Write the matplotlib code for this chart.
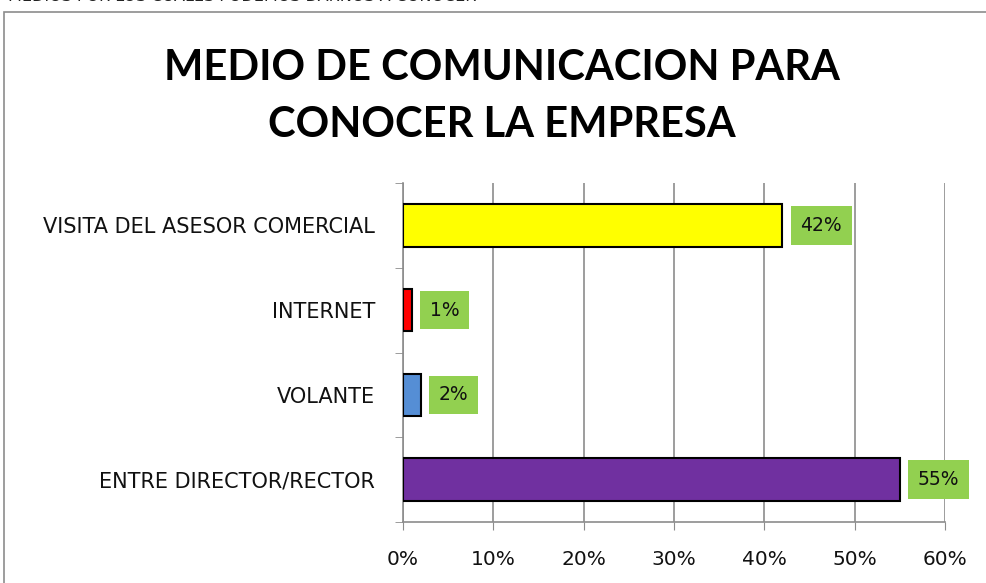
import matplotlib.pyplot as plt
from matplotlib.patches import Rectangle
import numpy as np

# data, bottom to top as drawn
categories = ["ENTRE DIRECTOR/RECTOR", "VOLANTE", "INTERNET", "VISITA DEL ASESOR COMERCIAL"]
values = [0.55, 0.02, 0.01, 0.42]
colors = ["#7030A0", "#558ED5", "#FF0000", "#FFFF00"]
xticks = [0, 0.1, 0.2, 0.3, 0.4, 0.5, 0.6]
xticklabels = ["0%", "10%", "20%", "30%", "40%", "50%", "60%"]

plt.rcParams['font.family'] = ['DejaVu Sans']

fig = plt.figure(figsize=(9.86, 5.83), dpi=100)

# clipped caption from the page above the chart
fig.text(0.008, 1.0 + 0.006, "MEDIOS POR LOS CUALES PODEMOS DARNOS A CONOCER",
         fontsize=11.5, color="#222222", va="center", ha="left")

# chart frame
fig.patches.append(Rectangle((4 / 986, -0.05), 1.1, 1 - 12 / 583 + 0.05,
                             transform=fig.transFigure, fill=False,
                             edgecolor="#8c8c8c", linewidth=1.2))

fig.text(0.509, 0.884, "MEDIO DE COMUNICACION PARA", fontsize=30, fontweight="bold",
         family="Lato", ha="center", va="center", color="black")
fig.text(0.509, 0.785, "CONOCER LA EMPRESA", fontsize=30, fontweight="bold",
         family="Lato", ha="center", va="center", color="black")

ax = fig.add_axes([403 / 986, 1 - 522 / 583, (945 - 403) / 986, (522 - 183) / 583])

y = np.arange(len(categories))
ax.barh(y, values, height=0.5, color=colors, edgecolor="black", linewidth=1.5, zorder=3)

for yi, v in zip(y, values):
    ax.annotate(f"{round(v * 100)}%", (v, yi), xytext=(13, 0), textcoords="offset points",
                ha="left", va="center", fontsize=13.5, color="#111111",
                bbox=dict(boxstyle="square,pad=0.52", facecolor="#92D050", edgecolor="none"),
                zorder=4)

ax.set_xlim(0, 0.6)
ax.set_ylim(-0.5, len(categories) - 0.5)
ax.set_xticks(xticks)
ax.set_xticklabels(xticklabels, fontsize=14.5, color="#111111")
ax.set_yticks(y)
ax.set_yticklabels(categories, fontsize=15, color="#111111")
ax.set_yticks(np.arange(-0.5, len(categories), 1), minor=True)

ax.tick_params(axis="y", which="major", length=0, pad=20)
ax.tick_params(axis="y", which="minor", length=6, color="#8c8c8c", direction="out")
ax.tick_params(axis="x", length=6, color="#8c8c8c", direction="out", pad=14)

ax.grid(axis="x", color="#8c8c8c", linewidth=1.2, zorder=0)
ax.set_axisbelow(True)
for side in ["top", "right"]:
    ax.spines[side].set_visible(False)
for side in ["left", "bottom"]:
    ax.spines[side].set_color("#8c8c8c")
    ax.spines[side].set_linewidth(1.2)

fig.savefig("out.png", dpi=100)
